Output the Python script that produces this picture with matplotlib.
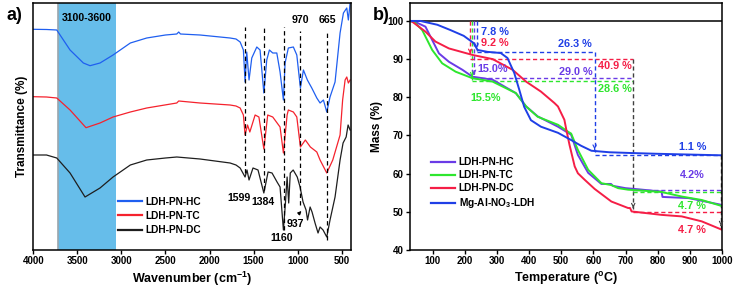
import matplotlib
matplotlib.use("Agg")
import matplotlib.pyplot as plt

plt.rcParams['font.family'] = ['Liberation Sans', 'DejaVu Sans']
plt.rcParams['font.weight'] = 'bold'
plt.rcParams['mathtext.default'] = 'bf'
plt.rcParams['mathtext.fontset'] = 'custom'
plt.rcParams['mathtext.bf'] = 'Liberation Sans:bold'

# ---------------- FTIR data (panel a) ----------------
ftir_labels = ['LDH-PN-HC', 'LDH-PN-TC', 'LDH-PN-DC']
ftir_colors = ['#1f5ff0', '#f5222d', '#1e1e1e']

wn_hc = [4000, 3850, 3734, 3583, 3432, 3356, 3243, 3095, 2899, 2713, 2500, 2372, 2350, 2330, 2108, 1767,
         1700, 1653, 1616, 1597, 1578, 1552, 1521, 1464, 1427, 1384, 1351, 1321, 1283, 1237, 1200, 1162,
         1143, 1106, 1049, 1010, 969, 935, 890, 840, 783, 746, 708, 670, 633, 576, 519, 481, 443, 425, 405]
tr_hc = [220.7, 220.5, 220, 200, 187, 184.3, 187, 195, 207, 212, 215, 216, 218, 216, 215, 212,
         211, 208, 200, 168, 198, 170, 192, 203, 200, 157, 190, 200, 197, 197, 178, 150,
         187, 202, 203, 195, 162, 180, 170, 162, 152, 147, 150, 138, 153, 168, 217, 237, 242, 230, 247]

wn_tc = [4000, 3850, 3734, 3583, 3402, 3243, 3095, 2899, 2713, 2372, 2350, 2108, 1767, 1700, 1653, 1616,
         1597, 1569, 1543, 1483, 1440, 1384, 1340, 1283, 1200, 1162, 1120, 1106, 1049, 1010, 969, 913,
         856, 783, 746, 670, 602, 519, 490, 462, 443, 425, 405]
tr_tc = [153.3, 153, 152, 140, 122.3, 127, 133, 138, 142, 147, 149, 147, 145, 144, 142, 135,
         115, 125, 118, 135, 133, 101, 135, 133, 123, 97, 135, 140, 138, 133, 103, 110,
         103, 98, 90, 77, 90, 115, 150, 170, 173, 167, 170]

wn_dc = [4000, 3850, 3734, 3583, 3413, 3243, 3095, 2899, 2713, 2500, 2372, 2108, 1767, 1700, 1653, 1597,
         1575, 1552, 1507, 1450, 1384, 1336, 1291, 1234, 1200, 1162, 1139, 1120, 1102, 1084, 1051, 1005,
         973, 939, 905, 888, 859, 837, 803, 769, 746, 712, 670, 633, 576, 519, 485, 450, 428, 405]
tr_dc = [95, 95, 92, 77, 53, 62, 73, 85, 90, 92, 93, 91, 87, 85, 82, 73,
         80, 70, 82, 80, 57, 78, 77, 68, 63, 20, 47, 73, 47, 77, 80, 73,
         63, 48, 40, 30, 43, 38, 27, 17, 23, 20, 13, 30, 53, 90, 107, 113, 125, 120]

band_range = [3720, 3060]
peak_lines = [1599, 1384, 1160, 970, 665]
peak_line_bottoms = [77, 60, 20, 45, 10]

# ---------------- TGA data (panel b) ----------------
t_hc = [31, 50, 78, 120, 151, 193, 224, 287, 359, 391, 427, 490, 531, 552, 584, 625, 655, 661, 700, 740, 812, 815, 896, 1000]
m_hc = [100, 99.6, 98.5, 91.5, 89.3, 87.2, 85.4, 84.6, 81.1, 77.6, 75, 72.3, 70.2, 64.9, 60.2, 57.3, 57.3, 56.8, 56.2, 55.9, 55.3, 53.9, 53.6, 51.8]

t_tc = [31, 45, 68, 99, 130, 172, 224, 287, 359, 391, 427, 490, 521, 531, 552, 584, 625, 656, 677, 708, 812, 875, 937, 1000]
m_tc = [100, 99.6, 97.6, 92.4, 88.9, 86.7, 85, 84.1, 81.1, 77.6, 74.9, 72.8, 71, 70.5, 66.2, 61, 57.5, 57, 56.2, 55.8, 55.2, 54, 53.1, 51.5]

t_dc = [31, 37, 78, 109, 151, 224, 287, 349, 391, 437, 479, 490, 510, 516, 526, 542, 552, 573, 604, 656, 708, 714, 719, 812, 875, 937, 1000]
m_dc = [100, 99.8, 97.2, 94.6, 92.8, 91.1, 90, 87.2, 84.1, 81.5, 78.5, 77.6, 74.1, 71.5, 67.5, 61.9, 60.1, 58.4, 56, 52.7, 51, 51, 50.1, 49.2, 48.8, 47.5, 45.3]

t_mg = [31, 62, 115, 156, 197, 228, 240, 271, 312, 333, 354, 370, 385, 406, 437, 490, 531, 562, 594, 650, 719, 800, 900, 1000]
m_mg = [100, 100, 99, 97.6, 96.1, 94.2, 92.4, 91.9, 91.6, 90.3, 86.4, 81.9, 77.5, 74, 72.3, 70.7, 68.8, 67.3, 66, 65.6, 65.4, 65.2, 65, 64.8]

tga_labels = ['LDH-PN-HC', 'LDH-PN-TC', 'LDH-PN-DC', 'Mg-Al-NO$_3$-LDH']
c_hc, c_tc, c_dc, c_mg, c_k = '#6a3be6', '#2ee62e', '#f51e46', '#1f3fe6', '#404040'

# dashed guide segments: (x0, x1, y0, y1, color, arrow)
guides = [
    (217, 217, 100, 90.7, c_dc, True),
    (223, 223, 100, 84.6, c_tc, True),
    (229, 229, 100, 85.2, c_hc, True),
    (237, 237, 100, 92.1, c_mg, True),
    (237, 604, 91.8, 91.8, c_mg, False),
    (217, 724, 90, 90, c_dc, False),
    (229, 724, 85.0, 85.0, c_hc, False),
    (223, 724, 84.2, 84.2, c_tc, False),
    (604, 604, 91.8, 65.6, c_mg, True),
    (724, 724, 90, 50.3, c_k, True),
    (604, 1000, 65.0, 65.0, c_mg, False),
    (724, 1000, 55.8, 55.8, c_hc, False),
    (724, 1000, 55.3, 55.3, c_tc, False),
    (724, 1000, 49.9, 49.9, c_dc, False),
    (997, 997, 65, 45.6, c_k, True),
]

# text annotations: (x, y, text, color, ha)
tga_texts = [
    (252, 97.2, '7.8 %', c_mg, 'left'),
    (252, 94.2, '9.2 %', c_dc, 'left'),
    (544, 94.0, '26.3 %', c_mg, 'center'),
    (667, 88.3, '40.9 %', c_dc, 'center'),
    (238, 87.4, '15.0%', c_hc, 'left'),
    (545, 86.7, '29.0 %', c_hc, 'center'),
    (667, 82.1, '28.6 %', c_tc, 'center'),
    (266, 79.8, '15.5%', c_tc, 'center'),
    (909, 67.1, '1.1 %', c_mg, 'center'),
    (906, 59.7, '4.2%', c_hc, 'center'),
    (906, 51.4, '4.7 %', c_tc, 'center'),
    (906, 45.3, '4.7 %', c_dc, 'center'),
]

fig = plt.figure(figsize=(7.34, 2.93), dpi=100)
ax1 = fig.add_axes([33.3 / 734, 43 / 293, 317.7 / 734, 247 / 293])
ax2 = fig.add_axes([410 / 734, 43 / 293, 312 / 734, 247 / 293])

# ---- panel a ----
ax1.axvspan(band_range[0], band_range[1], color='#66bdea', lw=0)
ax1.axvline(band_range[0], color='#9aa5ad', lw=1.2)
for wn, tr, col, lab in zip([wn_hc, wn_tc, wn_dc], [tr_hc, tr_tc, tr_dc], ftir_colors, ftir_labels):
    ax1.plot(wn, tr, color=col, lw=0.9, label=lab)
for p, b in zip(peak_lines, peak_line_bottoms):
    top = 223 if p in (1599, 1384, 1160) else 219
    ax1.plot([p, p], [b, top], color='black', lw=0.9, dashes=(3.5, 2.5))
ax1.set_xlim(4000, 395)
ax1.set_ylim(0, 247)
ax1.set_yticks([])
ax1.set_xticks([4000, 3500, 3000, 2500, 2000, 1500, 1000, 500])
ax1.tick_params(axis='x', direction='out', length=3, width=1, labelsize=7, pad=1.5)
for lbl in ax1.get_xticklabels():
    lbl.set_fontweight('bold')
ax1.set_xlabel('Wavenumber (cm$^{-1}$)', fontsize=9, fontweight='bold', labelpad=2.5)
ax1.set_ylabel('Transmittance (%)', fontsize=8.5, fontweight='bold', labelpad=4)
for s in ax1.spines.values():
    s.set_linewidth(1.1)
ax1.text(3390, 232, '3100-3600', ha='center', va='center', fontsize=7.6, fontweight='bold')
ax1.text(970, 230, '970', ha='center', va='center', fontsize=7.6, fontweight='bold')
ax1.text(665, 230, '665', ha='center', va='center', fontsize=7.6, fontweight='bold')
ax1.text(1665, 52, '1599', ha='center', va='center', fontsize=7.6, fontweight='bold')
ax1.text(1395, 48, '1384', ha='center', va='center', fontsize=7.6, fontweight='bold')
ax1.text(1180, 12, '1160', ha='center', va='center', fontsize=7.6, fontweight='bold')
ax1.text(1030, 26, '937', ha='center', va='center', fontsize=7.6, fontweight='bold')
ax1.annotate('', xy=(935, 41), xytext=(1012, 34),
             arrowprops=dict(arrowstyle='-|>', color='black', lw=0.8, mutation_scale=5))
leg1 = ax1.legend(loc='lower left', bbox_to_anchor=(0.25, 0.04), frameon=False, fontsize=7.3,
                  handlelength=2.4, handletextpad=0.35, labelspacing=0.4, borderpad=0)
for t in leg1.get_texts():
    t.set_fontweight('bold')
for h in leg1.legend_handles:
    h.set_linewidth(1.6)

# ---- panel b ----
ax2.axhline(100, color='black', lw=1.1)
for g in guides:
    x0, x1, y0, y1, col, arrow = g
    ax2.plot([x0, x1], [y0, y1], color=col, lw=1.0, dashes=(3, 2))
    if arrow:
        ax2.annotate('', xy=(x1, y1), xytext=(x1, y1 + 1.6),
                     arrowprops=dict(arrowstyle='->', color=col, lw=0.8, mutation_scale=6))
for t, m, col, lab in zip([t_hc, t_tc, t_dc, t_mg], [m_hc, m_tc, m_dc, m_mg],
                          [c_hc, c_tc, c_dc, c_mg], tga_labels):
    ax2.plot(t, m, color=col, lw=1.4, label=lab)
for x, y, s, col, ha in tga_texts:
    ax2.text(x, y, s, color=col, ha=ha, va='center', fontsize=7.8, fontweight='bold')
ax2.set_xlim(30, 1000)
ax2.set_ylim(40, 104.7)
ax2.set_xticks([100, 200, 300, 400, 500, 600, 700, 800, 900, 1000])
ax2.set_yticks([40, 50, 60, 70, 80, 90, 100])
ax2.tick_params(direction='out', length=3, width=1, labelsize=7, pad=1.5)
for lbl in ax2.get_xticklabels() + ax2.get_yticklabels():
    lbl.set_fontweight('bold')
ax2.set_xlabel('Temperature ($^{o}$C)', fontsize=9, fontweight='bold', labelpad=2.5)
ax2.set_ylabel('Mass (%)', fontsize=8.5, fontweight='bold', labelpad=3)
for s in ax2.spines.values():
    s.set_linewidth(1.1)
leg2 = ax2.legend(loc='lower left', bbox_to_anchor=(0.05, 0.14), frameon=False, fontsize=7.3,
                  handlelength=2.4, handletextpad=0.35, labelspacing=0.3, borderpad=0)
for t in leg2.get_texts():
    t.set_fontweight('bold')
for h in leg2.legend_handles:
    h.set_linewidth(1.6)

fig.text(14 / 734, 1 - 15 / 293, 'a)', fontsize=13, fontweight='bold', ha='center', va='center')
fig.text(381 / 734, 1 - 15 / 293, 'b)', fontsize=13, fontweight='bold', ha='center', va='center')

fig.savefig('out.png', dpi=100)
